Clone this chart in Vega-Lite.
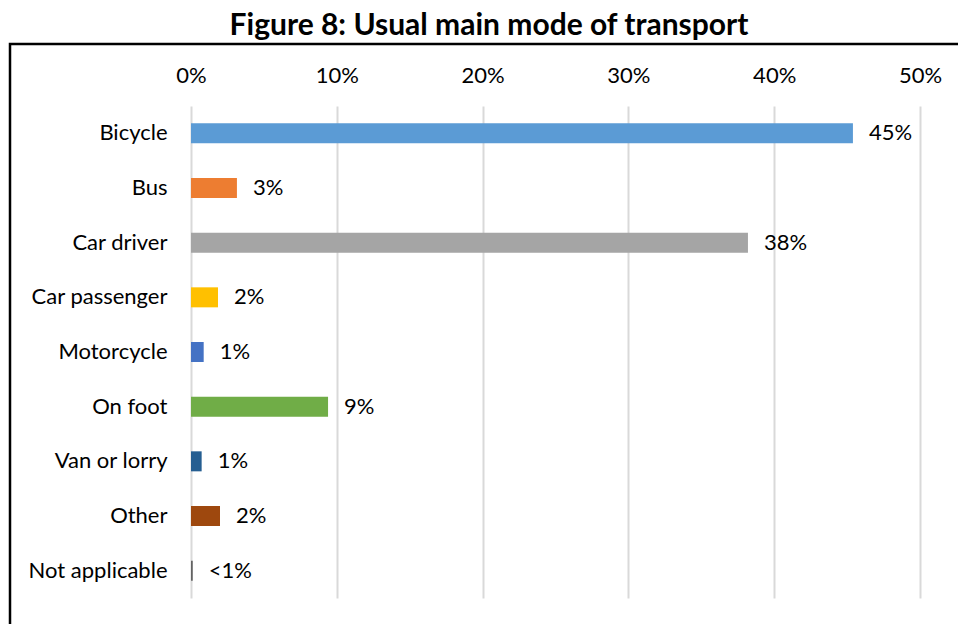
{
  "$schema": "https://vega.github.io/schema/vega-lite/v6.json",
  "autosize": {"type": "none"},
  "padding": {"left": 10, "top": 44, "right": -2, "bottom": -10},
  "width": 950,
  "height": 590,
  "background": "white",
  "title": {
    "text": "Figure 8: Usual main mode of transport",
    "font": "Lato",
    "fontSize": 30,
    "fontWeight": "bold",
    "color": "#000000",
    "anchor": "middle",
    "frame": "group",
    "baseline": "alphabetic",
    "offset": -21,
    "dx": 4
  },
  "data": {
    "values": [
      {"mode": "Bicycle", "pct": 45.4, "label": "45%"},
      {"mode": "Bus", "pct": 3.15, "label": "3%"},
      {"mode": "Car driver", "pct": 38.2, "label": "38%"},
      {"mode": "Car passenger", "pct": 1.85, "label": "2%"},
      {"mode": "Motorcycle", "pct": 0.87, "label": "1%"},
      {"mode": "On foot", "pct": 9.4, "label": "9%"},
      {"mode": "Van or lorry", "pct": 0.73, "label": "1%"},
      {"mode": "Other", "pct": 1.99, "label": "2%"},
      {"mode": "Not applicable", "pct": 0.12, "label": "<1%"}
    ]
  },
  "encoding": {
    "y": {
      "field": "mode",
      "type": "nominal",
      "sort": null,
      "scale": {"range": [62, 554], "paddingInner": 0.634, "paddingOuter": 0.317},
      "axis": {
        "orient": "left",
        "offset": -181,
        "domain": false,
        "ticks": false,
        "grid": false,
        "labelFont": "Lato",
        "labelFontSize": 22,
        "labelColor": "#000000",
        "labelPadding": 24,
        "labelLimit": 300,
        "title": null
      }
    },
    "x": {
      "field": "pct",
      "type": "quantitative",
      "scale": {"domain": [0, 50], "range": [181, 910], "nice": false},
      "axis": {
        "orient": "top",
        "offset": -62,
        "values": [0, 10, 20, 30, 40, 50],
        "labelExpr": "datum.value + '%'",
        "labelFlush": false,
        "labelOverlap": false,
        "domain": false,
        "ticks": false,
        "grid": true,
        "gridColor": "#D9D9D9",
        "gridWidth": 2,
        "labelFont": "Lato",
        "labelFontSize": 22,
        "labelColor": "#000000",
        "labelPadding": 24,
        "labelBaseline": "alphabetic",
        "title": null
      }
    }
  },
  "layer": [
    {
      "mark": {"type": "bar"},
      "encoding": {
        "color": {
          "field": "mode",
          "type": "nominal",
          "scale": {
            "domain": ["Bicycle", "Bus", "Car driver", "Car passenger", "Motorcycle", "On foot", "Van or lorry", "Other", "Not applicable"],
            "range": ["#5B9BD5", "#ED7D31", "#A5A5A5", "#FFC000", "#4472C4", "#70AD47", "#255E91", "#9E480E", "#636363"]
          },
          "legend": null
        }
      }
    },
    {
      "mark": {"type": "text", "align": "left", "baseline": "middle", "dx": 16, "font": "Lato", "fontSize": 22, "color": "#000000"},
      "encoding": {"text": {"field": "label", "type": "nominal"}}
    }
  ],
  "config": {
    "view": {"stroke": "#000000", "strokeWidth": 2.5}
  }
}
